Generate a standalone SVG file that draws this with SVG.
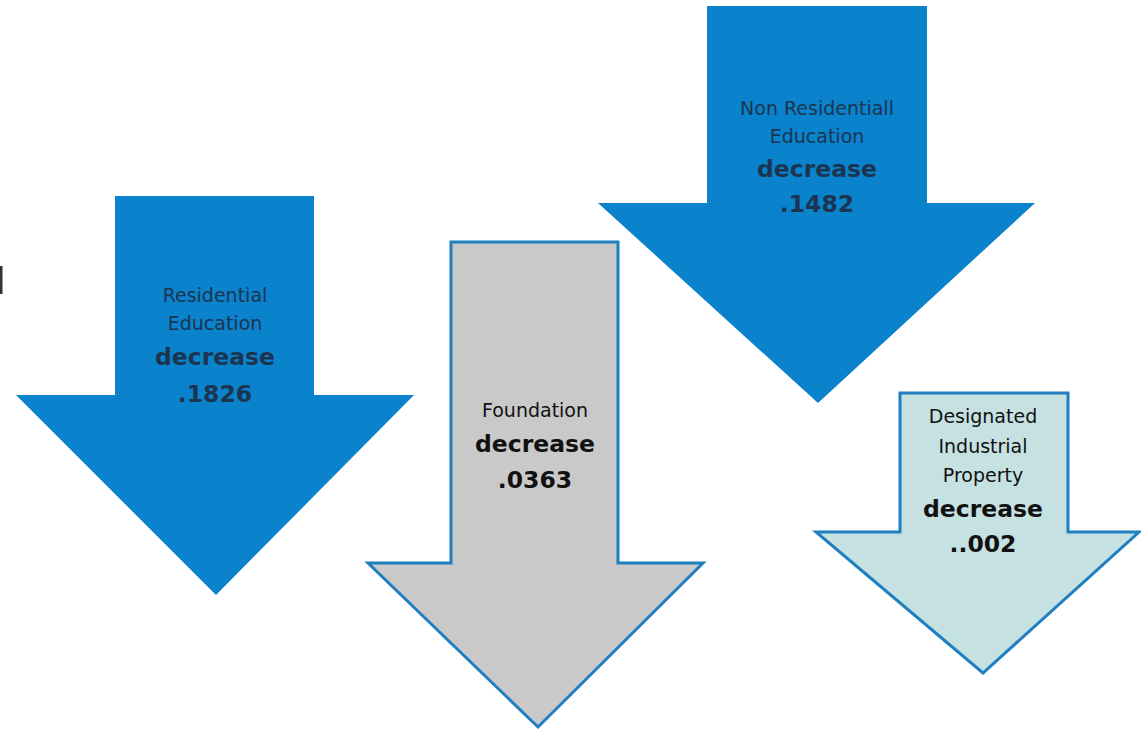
<svg xmlns="http://www.w3.org/2000/svg" width="1141" height="730" viewBox="0 0 1141 730">
<style>
.blue{fill:#0a82cc;stroke:none}
.gray{fill:#c9c9c9;stroke:#1f7fc0;stroke-width:3;stroke-linejoin:miter}
.teal{fill:#c6e1e2;stroke:#1f7fc0;stroke-width:3;stroke-linejoin:miter}
text{font-family:"DejaVu Sans",sans-serif;text-anchor:middle}
.s{font-size:19px}
.b{font-size:23.5px;font-weight:bold}
.dk{fill:#1b3550}
.bk{fill:#111}
</style>
<rect width="1141" height="730" fill="#fff"/>
<rect x="0" y="266" width="2.5" height="28" fill="#333"/>
<g id="residential">
<polygon class="blue" points="115,196 314,196 314,395 414,395 216,595 16,395 115,395"/>
<text class="s dk" x="215" y="302">Residential</text>
<text class="s dk" x="215" y="330">Education</text>
<text class="b dk" x="215" y="365">decrease</text>
<text class="b dk" x="215" y="402">.1826</text>
</g>
<g id="foundation">
<polygon class="gray" points="451,242 618,242 618,563 703,563 538,727 368,563 451,563"/>
<text class="s bk" x="535" y="417">Foundation</text>
<text class="b bk" x="535" y="452">decrease</text>
<text class="b bk" x="535" y="488">.0363</text>
</g>
<g id="nonresidential">
<polygon class="blue" points="707,6 927,6 927,203 1035,203 818,403 598,203 707,203"/>
<text class="s dk" x="817" y="115">Non Residentiall</text>
<text class="s dk" x="817" y="143">Education</text>
<text class="b dk" x="817" y="177">decrease</text>
<text class="b dk" x="817" y="212">.1482</text>
</g>
<g id="industrial">
<polygon class="teal" points="900,393 1068,393 1068,532 1139,532 983,673 816,532 900,532"/>
<text class="s bk" x="983" y="423">Designated</text>
<text class="s bk" x="983" y="453">Industrial</text>
<text class="s bk" x="983" y="482">Property</text>
<text class="b bk" x="983" y="517">decrease</text>
<text class="b bk" x="983" y="552">..002</text>
</g>
<g id="connectors"/>
</svg>
